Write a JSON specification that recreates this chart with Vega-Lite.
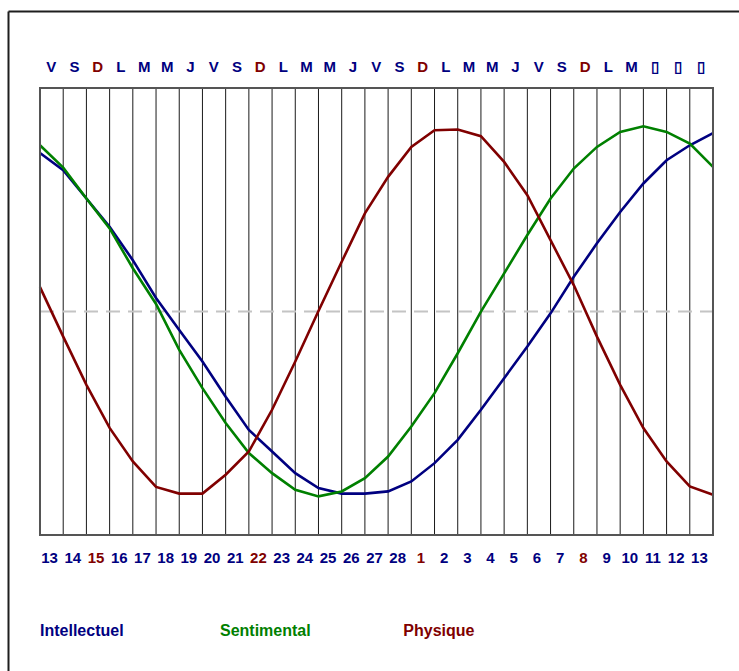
{
  "$schema": "https://vega.github.io/schema/vega-lite/v6.json",
  "width": 731,
  "height": 660,
  "padding": {"left": 8, "top": 11, "right": 0, "bottom": 0},
  "autosize": {"type": "none"},
  "background": "white",
  "config": {
    "view": {"stroke": null},
    "axis": {"labels": false, "ticks": false, "grid": false, "domainColor": "#1e1e1e", "domainWidth": 2, "titleOpacity": 0},
    "text": {"font": "Liberation Sans, Arial, sans-serif", "fontWeight": "bold"}
  },
  "datasets": {
    "curves": [
      {"k":0,"s":"Intellectuel","v":85.8},{"k":1,"s":"Intellectuel","v":76.5},{"k":2,"s":"Intellectuel","v":61.2},{"k":3,"s":"Intellectuel","v":45.8},{"k":4,"s":"Intellectuel","v":27.8},{"k":5,"s":"Intellectuel","v":7.3},{"k":6,"s":"Intellectuel","v":-10.0},{"k":7,"s":"Intellectuel","v":-27.1},{"k":8,"s":"Intellectuel","v":-46.1},{"k":9,"s":"Intellectuel","v":-64.1},{"k":10,"s":"Intellectuel","v":-75.8},{"k":11,"s":"Intellectuel","v":-87.5},{"k":12,"s":"Intellectuel","v":-95.6},{"k":13,"s":"Intellectuel","v":-98.6},{"k":14,"s":"Intellectuel","v":-98.6},{"k":15,"s":"Intellectuel","v":-97.4},{"k":16,"s":"Intellectuel","v":-92.0},{"k":17,"s":"Intellectuel","v":-82.1},{"k":18,"s":"Intellectuel","v":-69.5},{"k":19,"s":"Intellectuel","v":-53.2},{"k":20,"s":"Intellectuel","v":-36.1},{"k":21,"s":"Intellectuel","v":-19.0},{"k":22,"s":"Intellectuel","v":-1.0},{"k":23,"s":"Intellectuel","v":18.8},{"k":24,"s":"Intellectuel","v":36.9},{"k":25,"s":"Intellectuel","v":53.9},{"k":26,"s":"Intellectuel","v":69.3},{"k":27,"s":"Intellectuel","v":81.9},{"k":28,"s":"Intellectuel","v":90.0},{"k":29,"s":"Intellectuel","v":96.6},
      {"k":0,"s":"Sentimental","v":90.0},{"k":1,"s":"Sentimental","v":77.9},{"k":2,"s":"Sentimental","v":61.2},{"k":3,"s":"Sentimental","v":45.0},{"k":4,"s":"Sentimental","v":23.4},{"k":5,"s":"Sentimental","v":4.1},{"k":6,"s":"Sentimental","v":-20.8},{"k":7,"s":"Sentimental","v":-41.5},{"k":8,"s":"Sentimental","v":-60.4},{"k":9,"s":"Sentimental","v":-76.6},{"k":10,"s":"Sentimental","v":-87.5},{"k":11,"s":"Sentimental","v":-96.5},{"k":12,"s":"Sentimental","v":-100.1},{"k":13,"s":"Sentimental","v":-97.4},{"k":14,"s":"Sentimental","v":-90.2},{"k":15,"s":"Sentimental","v":-78.5},{"k":16,"s":"Sentimental","v":-62.3},{"k":17,"s":"Sentimental","v":-44.2},{"k":18,"s":"Sentimental","v":-22.6},{"k":19,"s":"Sentimental","v":-0.1},{"k":20,"s":"Sentimental","v":20.6},{"k":21,"s":"Sentimental","v":41.4},{"k":22,"s":"Sentimental","v":61.2},{"k":23,"s":"Sentimental","v":77.4},{"k":24,"s":"Sentimental","v":89.1},{"k":25,"s":"Sentimental","v":97.2},{"k":26,"s":"Sentimental","v":100.3},{"k":27,"s":"Sentimental","v":97.2},{"k":28,"s":"Sentimental","v":90.9},{"k":29,"s":"Sentimental","v":78.3},
      {"k":0,"s":"Physique","v":13.2},{"k":1,"s":"Physique","v":-13.6},{"k":2,"s":"Physique","v":-39.7},{"k":3,"s":"Physique","v":-63.0},{"k":4,"s":"Physique","v":-81.2},{"k":5,"s":"Physique","v":-95.0},{"k":6,"s":"Physique","v":-98.6},{"k":7,"s":"Physique","v":-98.6},{"k":8,"s":"Physique","v":-88.4},{"k":9,"s":"Physique","v":-75.8},{"k":10,"s":"Physique","v":-53.2},{"k":11,"s":"Physique","v":-27.1},{"k":12,"s":"Physique","v":0.3},{"k":13,"s":"Physique","v":26.9},{"k":14,"s":"Physique","v":53.1},{"k":15,"s":"Physique","v":72.9},{"k":16,"s":"Physique","v":89.1},{"k":17,"s":"Physique","v":98.1},{"k":18,"s":"Physique","v":98.5},{"k":19,"s":"Physique","v":94.9},{"k":20,"s":"Physique","v":81.0},{"k":21,"s":"Physique","v":63.0},{"k":22,"s":"Physique","v":38.6},{"k":23,"s":"Physique","v":14.3},{"k":24,"s":"Physique","v":-13.6},{"k":25,"s":"Physique","v":-39.7},{"k":26,"s":"Physique","v":-63.1},{"k":27,"s":"Physique","v":-81.2},{"k":28,"s":"Physique","v":-94.7},{"k":29,"s":"Physique","v":-99.2}
    ],
    "days": [
      {"k":0,"day":"13","dow":"V","sun":false},{"k":1,"day":"14","dow":"S","sun":false},{"k":2,"day":"15","dow":"D","sun":true},{"k":3,"day":"16","dow":"L","sun":false},{"k":4,"day":"17","dow":"M","sun":false},{"k":5,"day":"18","dow":"M","sun":false},{"k":6,"day":"19","dow":"J","sun":false},{"k":7,"day":"20","dow":"V","sun":false},{"k":8,"day":"21","dow":"S","sun":false},{"k":9,"day":"22","dow":"D","sun":true},{"k":10,"day":"23","dow":"L","sun":false},{"k":11,"day":"24","dow":"M","sun":false},{"k":12,"day":"25","dow":"M","sun":false},{"k":13,"day":"26","dow":"J","sun":false},{"k":14,"day":"27","dow":"V","sun":false},{"k":15,"day":"28","dow":"S","sun":false},{"k":16,"day":"1","dow":"D","sun":true},{"k":17,"day":"2","dow":"L","sun":false},{"k":18,"day":"3","dow":"M","sun":false},{"k":19,"day":"4","dow":"M","sun":false},{"k":20,"day":"5","dow":"J","sun":false},{"k":21,"day":"6","dow":"V","sun":false},{"k":22,"day":"7","dow":"S","sun":false},{"k":23,"day":"8","dow":"D","sun":true},{"k":24,"day":"9","dow":"L","sun":false},{"k":25,"day":"10","dow":"M","sun":false},{"k":26,"day":"11","dow":"▯","sun":false},{"k":27,"day":"12","dow":"▯","sun":false},{"k":28,"day":"13","dow":"▯","sun":false}
    ]
  },
  "layer": [
    {
      "data": {"name": "curves"},
      "transform": [{"filter": "datum.s == 'Physique'"}],
      "mark": {"type": "rule", "color": "#1a1a1a", "strokeWidth": 1},
      "encoding": {
        "x": {"field": "k", "type": "quantitative", "scale": {"domain": [-1.3789, 30.1204], "nice": false, "zero": false}, "axis": {"orient": "top"}, "title": null},
        "y": {"datum": -121, "scale": {"domain": [-194.629, 162.687], "nice": false, "zero": false}},
        "y2": {"datum": 121}
      }
    },
    {
      "data": {"values": [{}]},
      "mark": {"type": "rule", "color": "#c4c4c4", "strokeWidth": 2, "strokeDash": [14, 8]},
      "encoding": {
        "x": {"datum": 0},
        "x2": {"datum": 29},
        "y": {"datum": 0}
      }
    },
    {
      "data": {"name": "curves"},
      "mark": {"type": "line", "strokeWidth": 2.6},
      "encoding": {
        "x": {"field": "k", "type": "quantitative", "title": null},
        "y": {"field": "v", "type": "quantitative", "title": null},
        "color": {"field": "s", "type": "nominal", "scale": {"domain": ["Intellectuel", "Sentimental", "Physique"], "range": ["#000080", "#008000", "#800000"]}, "legend": null}
      }
    },
    {
      "data": {"values": [{}]},
      "mark": {"type": "rect", "fill": "white", "fillOpacity": 0, "stroke": "#555555", "strokeWidth": 2},
      "encoding": {
        "x": {"datum": 0},
        "x2": {"datum": 29},
        "y": {"datum": -121},
        "y2": {"datum": 121}
      }
    },
    {
      "data": {"name": "days"},
      "mark": {"type": "text", "fontSize": 15, "align": "center", "baseline": "middle", "dx": 11.3},
      "encoding": {
        "x": {"field": "k", "type": "quantitative", "title": null},
        "y": {"datum": 132.5},
        "text": {"field": "dow"},
        "color": {"condition": {"test": "datum.sun", "value": "#800000"}, "value": "#000080"}
      }
    },
    {
      "data": {"name": "days"},
      "mark": {"type": "text", "fontSize": 15, "align": "center", "baseline": "middle", "dx": 9.6},
      "encoding": {
        "x": {"field": "k", "type": "quantitative", "title": null},
        "y": {"datum": -133.7},
        "text": {"field": "day"},
        "color": {"condition": {"test": "datum.sun", "value": "#800000"}, "value": "#000080"}
      }
    },
    {
      "data": {"values": [{"s": "Intellectuel"}]},
      "mark": {"type": "text", "fontSize": 16, "align": "left", "baseline": "middle", "color": "#000080"},
      "encoding": {"x": {"datum": 0}, "y": {"datum": -173}, "text": {"field": "s"}}
    },
    {
      "data": {"values": [{"s": "Sentimental"}]},
      "mark": {"type": "text", "fontSize": 16, "align": "left", "baseline": "middle", "color": "#008000"},
      "encoding": {"x": {"datum": 7.756}, "y": {"datum": -173}, "text": {"field": "s"}}
    },
    {
      "data": {"values": [{"s": "Physique"}]},
      "mark": {"type": "text", "fontSize": 16, "align": "left", "baseline": "middle", "color": "#800000"},
      "encoding": {"x": {"datum": 15.655}, "y": {"datum": -173}, "text": {"field": "s"}}
    }
  ]
}
